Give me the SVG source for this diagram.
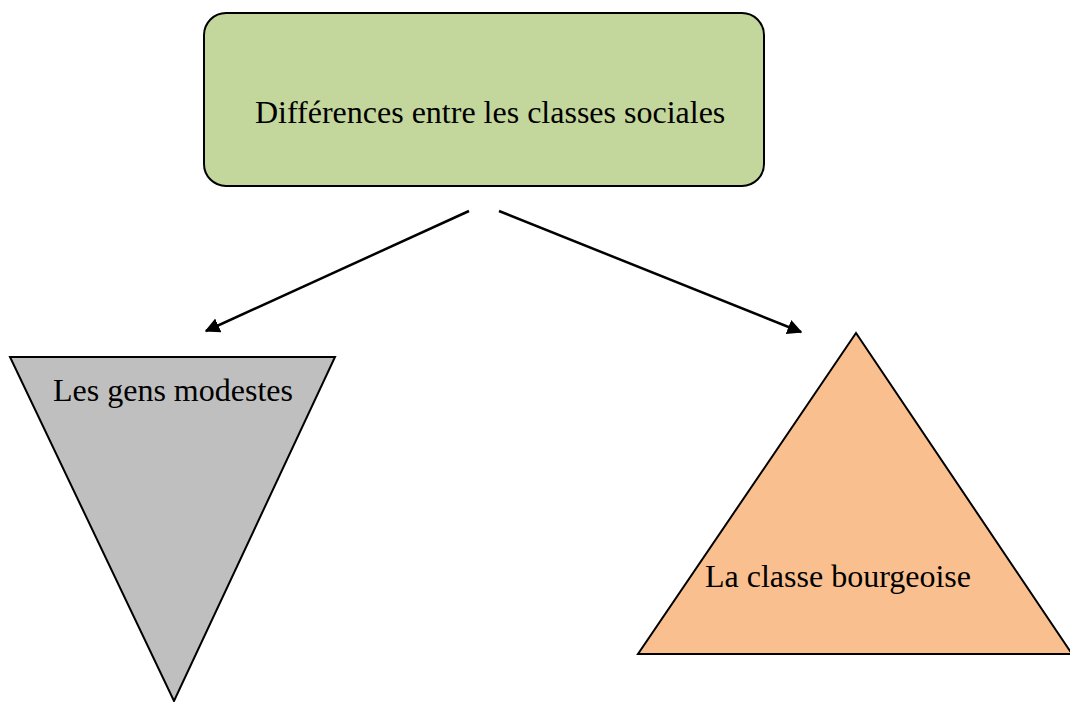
<svg xmlns="http://www.w3.org/2000/svg" width="1070" height="702" viewBox="0 0 1070 702">
<style>
text{font-family:"Liberation Serif","Times New Roman",serif;font-size:32px;fill:#000}
.shape{stroke:#000;stroke-width:2}
.conn{stroke:#000;stroke-width:2.5;fill:none}
</style>
<defs>
<marker id="arr" viewBox="0 0 10 10" refX="9" refY="5" markerWidth="6" markerHeight="6" orient="auto" markerUnits="strokeWidth">
<path d="M0,0 L10,5 L0,10 z" fill="#000"/>
</marker>
</defs>
<rect width="1070" height="702" fill="#fff"/>
<g id="top">
<rect class="shape" x="204" y="13" width="560" height="173" rx="22" fill="#c3d69b"/>
<text x="255" y="123">Différences entre les classes sociales</text>
</g>
<g id="modestes">
<polygon class="shape" points="10,357 335,357 174,701" fill="#bfbfbf"/>
<text x="53" y="401">Les gens modestes</text>
</g>
<g id="bourgeoise">
<polygon class="shape" points="856,333 638,654 1072,654" fill="#f9bf8f"/>
<text x="705" y="587">La classe bourgeoise</text>
</g>
<g id="connectors">
<line class="conn" x1="469" y1="211" x2="206" y2="331" marker-end="url(#arr)"/>
<line class="conn" x1="499" y1="211" x2="801" y2="332" marker-end="url(#arr)"/>
</g>
</svg>
